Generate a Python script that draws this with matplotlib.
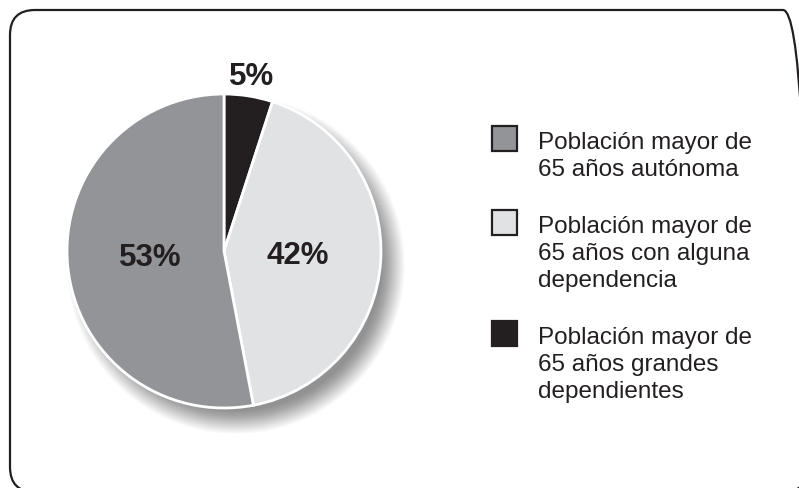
import matplotlib
matplotlib.use('Agg')
import matplotlib.pyplot as plt
from matplotlib.patches import Circle, FancyBboxPatch, Rectangle
from matplotlib.transforms import IdentityTransform
import numpy as np

# datos del grafico (orden horario desde arriba)
labels = ['Población mayor de\n65 años grandes\ndependientes',
          'Población mayor de\n65 años con alguna\ndependencia',
          'Población mayor de\n65 años autónoma']
values = [5, 42, 53]
colors = ['#231f20', '#e1e2e4', '#939498']
legend_order = [2, 1, 0]

W, H = 799, 488
fig = plt.figure(figsize=(W / 100, H / 100), dpi=100)
ax = fig.add_axes([0, 0, 1, 1])

cx, cy, r = 224, 251, 157

# sombra difusa (capas de circulos semitransparentes)
n = 40
for k in range(n):
    rr = r - 12 + 24 * (1 - k / n)
    ax.add_patch(Circle((cx + 12, cy + 14), rr, facecolor='black', edgecolor='none',
                        alpha=0.012, zorder=1))

# y invertida -> counterclock=True se ve en sentido horario
wedges, texts, autotexts = ax.pie(values, colors=colors, startangle=-90, counterclock=True,
                                  center=(cx, cy), radius=r,
                                  autopct=lambda p: '%d%%' % round(p), pctdistance=0.47,
                                  wedgeprops=dict(edgecolor='white', linewidth=2),
                                  textprops=dict(fontsize=22.5, fontweight='bold',
                                                 color='#231f20', family='Liberation Sans'))
for w in wedges:
    w.set_zorder(3)
for t in autotexts:
    t.set_zorder(4)

# el 5% va fuera, encima de la porcion
w = wedges[0]
mid = np.deg2rad((w.theta1 + w.theta2) / 2)
autotexts[0].set_position((cx + 1.12 * r * np.cos(mid), cy + 1.12 * r * np.sin(mid)))

# leyenda
y = 126
for i in legend_order:
    ax.add_patch(Rectangle((492, y), 25, 25, facecolor=colors[i], edgecolor='#231f20', lw=1.6, zorder=3))
    lines = labels[i].split('\n')
    for j, line in enumerate(lines):
        ax.text(538, y + 23 + j * 27, line, fontsize=17.5, family='Liberation Sans',
                color='#231f20', va='baseline', ha='left')
    y += len(lines) * 27 + 30

# marco redondeado, en pixeles (y hacia arriba)
frame = FancyBboxPatch((10, -4), 798, 482, boxstyle='round,pad=0,rounding_size=25',
                       facecolor='none', edgecolor='#231f20', lw=1.6,
                       transform=IdentityTransform(), zorder=5)
fig.patches.append(frame)

ax.set_xlim(0, W)
ax.set_ylim(H, 0)
ax.set_aspect('equal')
ax.axis('off')

fig.savefig('out.png', dpi=100)
